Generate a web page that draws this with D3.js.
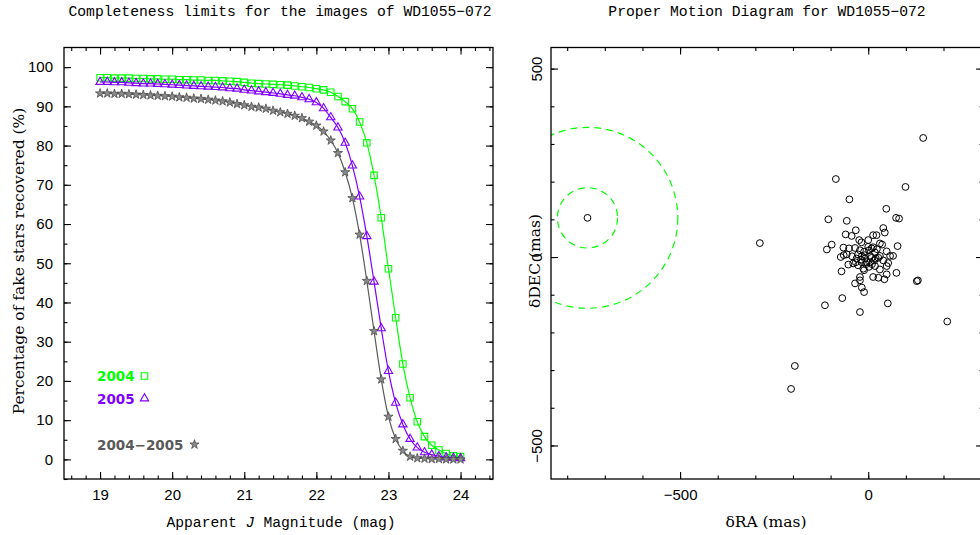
<!DOCTYPE html>
<html>
<head>
<meta charset="utf-8">
<script src="https://cdn.jsdelivr.net/npm/d3@7"></script>
<style>
    body { margin: 0; background: #fff; }
    .mono { font-family: "Liberation Mono", "DejaVu Sans Mono", monospace; font-size: 14.7px; }
    .serif { font-family: "DejaVu Serif", serif; font-size: 15.5px; }
    .ticklab text { font-family: "Liberation Sans", Arial, sans-serif; font-size: 15px; fill: #000; }
    .legend { font-family: "DejaVu Sans", sans-serif; font-weight: bold; font-size: 13.5px; }
</style>
</head>
<body>
<div id="chart"></div>
<script>

// completeness curves
const magnitudes = [19.0, 19.1, 19.2, 19.3, 19.4, 19.5, 19.6, 19.7, 19.8, 19.9,
    20.0, 20.1, 20.2, 20.3, 20.4, 20.5, 20.6, 20.7, 20.8, 20.9,
    21.0, 21.1, 21.2, 21.3, 21.4, 21.5, 21.6, 21.7, 21.8, 21.9,
    22.0, 22.1, 22.2, 22.3, 22.4, 22.5, 22.6, 22.7, 22.8, 22.9,
    23.0, 23.1, 23.2, 23.3, 23.4, 23.5, 23.6, 23.7, 23.8, 23.9, 24.0];

const recovered2004 = [97.3, 97.3, 97.2, 97.2, 97.2, 97.1, 97.1, 97.0, 97.0, 96.9,
    96.9, 96.8, 96.8, 96.7, 96.7, 96.6, 96.6, 96.5, 96.4, 96.3,
    96.1, 95.9, 95.8, 95.7, 95.6, 95.5, 95.4, 95.2, 95.0, 94.8,
    94.5, 94.2, 93.6, 92.5, 91.2, 89.4, 86.0, 80.7, 72.4, 61.6,
    48.6, 36.1, 24.3, 15.7, 9.6, 5.8, 3.6, 2.4, 1.5, 0.9, 0.7];

const recovered2005 = [96.2, 96.2, 96.1, 96.1, 96.0, 95.9, 95.8, 95.8, 95.7, 95.6,
    95.5, 95.4, 95.3, 95.2, 95.1, 95.0, 94.9, 94.8, 94.6, 94.5,
    94.2, 94.0, 93.8, 93.6, 93.4, 93.2, 92.9, 92.7, 92.3, 91.8,
    91.0, 89.5, 87.2, 84.6, 80.7, 74.9, 67.0, 56.9, 45.3, 33.4,
    22.5, 14.4, 8.9, 5.2, 3.0, 1.8, 1.2, 0.8, 0.5, 0.4, 0.3];

const recoveredBoth = [93.3, 93.3, 93.2, 93.2, 93.1, 93.0, 92.9, 92.8, 92.7, 92.6,
    92.5, 92.3, 92.2, 92.0, 91.9, 91.7, 91.5, 91.3, 91.0, 90.6,
    90.3, 89.9, 89.7, 89.4, 88.9, 88.5, 88.1, 87.6, 87.0, 86.1,
    85.1, 83.6, 81.3, 78.1, 73.2, 66.6, 57.3, 45.5, 32.7, 20.4,
    10.9, 5.2, 2.2, 0.7, 0.3, 0.2, 0.1, 0.1, 0.0, 0.0, 0.0];

const seriesNames = ["2004", "2005", "2004\u22122005"];
const seriesColors = ["#00ff00", "#8000ff", "#5a5a5a"];

const magTicks = [19, 20, 21, 22, 23, 24];
const pctTicks = [0, 10, 20, 30, 40, 50, 60, 70, 80, 90, 100];

// proper motions of field stars (mas)
const pmRA = [-746, 146, 99, -86, -50, -288, -195, -205, 210, 129,
    132, 52, -22, -115, -69, -11, -17, -35, -22, -22,
    13, 27, 43, 49, 75, -71, -13, -11, 2, 18,
    31, 49, -53, -40, 53, 40, 9, 16, 27, -31,
    -19, -9, -65, -57, -73, -27, -11, 5, 18, 31,
    49, 58, 66, -110, -97, -66, -51, -35, 0, 9,
    31, 37, 78, -24, -18, 0, 13, 22, 44, 40,
    -60, -44, -33, -106, -57, 74, 82, 48, -9, -17,
    -4, 5, -27, -6, 10, 2, 13, 23, -22, -43,
    -33, 20, -17];
const pmDEC = [104, 316, 186, 207, 153, 37, -289, -350, -171, -64,
    -62, -123, -146, -128, -109, -93, -81, -70, -62, -53,
    -53, -55, -59, -46, -42, -38, -31, -35, -26, -24,
    -33, -24, -20, -17, -16, -9, -2, -9, -2, -4,
    -7, -4, 5, 7, 0, 7, 14, 3, 12, 3,
    15, 3, 3, 20, 33, 25, 23, 24, 27, 23,
    36, 33, 29, 45, 39, 45, 58, 58, 65, 77,
    60, 56, 71, 100, 96, 104, 102, 128, 5, -14,
    -14, -14, -22, -19, -19, 18, 26, 21, 18, 2,
    -14, -3, 2];

const wdMotion = [-746, 104];
const errorRadii = [80, 240];
const pmTicks = [-500, 0, 500];


const svg = d3.select("#chart").append("svg")
    .attr("width", 980)
    .attr("height", 535);

const big = 7, small = 3.5;

function frameTicks(g, x, y, xMajor, xMinor, yMajor, yMinor) {
    const [x0, x1] = x.range();
    const [y0, y1] = y.range();
    const sides = [
        [d3.axisBottom, x, xMinor, xMajor, `translate(0,${y0})`],
        [d3.axisTop, x, xMinor, xMajor, `translate(0,${y1})`],
        [d3.axisLeft, y, yMinor, yMajor, `translate(${x0},0)`],
        [d3.axisRight, y, yMinor, yMajor, `translate(${x1},0)`]
    ];
    sides.forEach(([axis, scale, minor, major, tr]) => {
        g.append("g").attr("transform", tr)
            .call(axis(scale).tickValues(minor).tickSize(-small).tickFormat(""))
            .call(a => a.select(".domain").remove());
        g.append("g").attr("transform", tr)
            .call(axis(scale).tickValues(major).tickSize(-big).tickFormat(""))
            .call(a => a.select(".domain").remove());
    });
    g.selectAll(".tick line").attr("stroke", "#000").attr("stroke-width", 1.1);
    g.append("rect")
        .attr("x", x0).attr("y", y1)
        .attr("width", x1 - x0).attr("height", y0 - y1)
        .attr("fill", "none").attr("stroke", "#000").attr("stroke-width", 1.3);
}

// ---------- completeness plot ----------
const left = svg.append("g");
const xMag = d3.scaleLinear().domain([18.5, 24.45]).range([64, 493]);
const yPct = d3.scaleLinear().domain([-5, 105]).range([479, 47.5]);

frameTicks(left, xMag, yPct,
    magTicks, d3.range(18.6, 24.45, 0.2),
    pctTicks, d3.range(-5, 105, 5));

left.append("g").attr("class", "ticklab")
    .attr("transform", "translate(0,479)")
    .call(d3.axisBottom(xMag).tickValues(magTicks).tickSize(0).tickPadding(10).tickFormat(d3.format("d")))
    .call(a => a.select(".domain").remove());

left.append("g").attr("class", "ticklab")
    .attr("transform", "translate(64,0)")
    .call(d3.axisLeft(yPct).tickValues(pctTicks).tickSize(0).tickPadding(11))
    .call(a => a.select(".domain").remove());

const series = [recovered2004, recovered2005, recoveredBoth];
const symbols = [
    d3.symbol().type(d3.symbolSquare).size(42),
    d3.symbol().type(d3.symbolTriangle).size(30),
    d3.symbol().type(d3.symbolStar).size(26)
];

const line = d3.line()
    .x(d => xMag(d[0]))
    .y(d => yPct(d[1]))
    .curve(d3.curveMonotoneX);

series.forEach((values, i) => {
    const pts = magnitudes.map((m, k) => [m, values[k]]);
    left.append("path")
        .attr("d", line(pts))
        .attr("fill", "none")
        .attr("stroke", seriesColors[i])
        .attr("stroke-width", 1.2);
    left.append("g").selectAll("path").data(pts).enter()
        .append("path")
        .attr("transform", d => `translate(${xMag(d[0])},${yPct(d[1])})`)
        .attr("d", symbols[i])
        .attr("fill", i == 2 ? "#8c8c8c" : "none")
        .attr("stroke", i == 2 ? "#4a4a4a" : seriesColors[i])
        .attr("stroke-width", i == 2 ? 0.8 : 1.1);
});

// legend
const legendRows = [
    { y: 381, sx: 144.5, sy: 376 },
    { y: 403.5, sx: 144.5, sy: 398.5 },
    { y: 449.5, sx: 194.5, sy: 444.5 }
];
legendRows.forEach((r, i) => {
    left.append("text")
        .attr("class", "legend")
        .attr("x", 97).attr("y", r.y)
        .attr("fill", seriesColors[i])
        .text(seriesNames[i]);
    left.append("path")
        .attr("transform", `translate(${r.sx},${r.sy})`)
        .attr("d", symbols[i])
        .attr("fill", i == 2 ? "#8c8c8c" : "none")
        .attr("stroke", i == 2 ? "#4a4a4a" : seriesColors[i])
        .attr("stroke-width", i == 2 ? 0.8 : 1.1);
});

left.append("text").attr("class", "mono")
    .attr("x", 280).attr("y", 16).attr("text-anchor", "middle")
    .text("Completeness limits for the images of WD1055\u2212072");

left.append("text").attr("class", "mono")
    .attr("x", 281).attr("y", 527).attr("text-anchor", "middle")
    .html('Apparent <tspan font-style="italic">J</tspan> Magnitude (mag)');

left.append("text").attr("class", "serif")
    .attr("transform", "translate(24,261) rotate(-90)")
    .attr("text-anchor", "middle")
    .text("Percentage of fake stars recovered (%)");

// ---------- proper motion plot ----------
const right = svg.append("g");
const xRA = d3.scaleLinear().domain([-843, 305]).range([551, 983]);
const yDEC = d3.scaleLinear().domain([-589, 556]).range([479, 47.5]);

right.append("clipPath")
    .attr("id", "pm-clip")
    .append("rect")
    .attr("x", 551).attr("y", 47.5)
    .attr("width", 432).attr("height", 431.5);

right.append("g").attr("class", "ticklab")
    .attr("transform", "translate(0,479)")
    .call(d3.axisBottom(xRA).tickValues(pmTicks.slice(0, 2)).tickSize(0).tickPadding(10))
    .call(a => a.select(".domain").remove());

right.append("g").attr("class", "ticklab")
    .attr("transform", "translate(551,0)")
    .call(d3.axisLeft(yDEC).tickValues(pmTicks).tickSize(0))
    .call(a => a.select(".domain").remove())
    .call(a => a.selectAll("text")
        .attr("x", null).attr("dy", null)
        .attr("text-anchor", "middle")
        .attr("transform", "translate(-9,0) rotate(-90)"));

errorRadii.forEach(r => {
    right.append("ellipse")
        .attr("clip-path", "url(#pm-clip)")
        .attr("cx", xRA(wdMotion[0]))
        .attr("cy", yDEC(wdMotion[1]))
        .attr("rx", xRA(r) - xRA(0))
        .attr("ry", yDEC(0) - yDEC(r))
        .attr("fill", "none")
        .attr("stroke", "#00ff00")
        .attr("stroke-width", 1.2)
        .attr("stroke-dasharray", "7,5");
});

right.append("g").attr("clip-path", "url(#pm-clip)")
    .selectAll("circle").data(pmRA).enter()
    .append("circle")
    .attr("cx", d => xRA(d))
    .attr("cy", (d, i) => yDEC(pmDEC[i]))
    .attr("r", 3.4)
    .attr("fill", "none")
    .attr("stroke", "#000")
    .attr("stroke-width", 1);

frameTicks(right, xRA, yDEC,
    pmTicks, d3.range(-800, 305, 100),
    pmTicks, d3.range(-500, 556, 100));

right.append("text").attr("class", "mono")
    .attr("x", 767).attr("y", 16).attr("text-anchor", "middle")
    .text("Proper Motion Diagram for WD1055\u2212072");

right.append("text").attr("class", "serif")
    .attr("x", 766).attr("y", 527).attr("text-anchor", "middle")
    .text("\u03b4RA (mas)");

right.append("text").attr("class", "serif")
    .attr("transform", "translate(540,261) rotate(-90)")
    .attr("text-anchor", "middle")
    .text("\u03b4DEC (mas)");

</script>
</body>
</html>
